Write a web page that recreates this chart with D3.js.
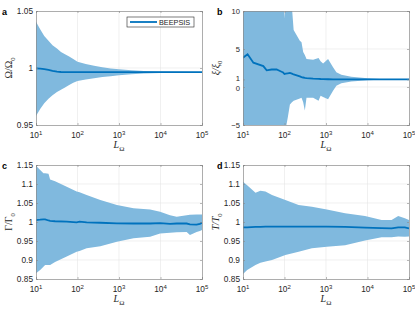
<!DOCTYPE html>
<html>
<head>
<meta charset="utf-8">
<script src="https://cdn.jsdelivr.net/npm/d3@7"></script>
<style>
  body { margin: 0; background: #fff; }
  svg text { font-family: "Liberation Sans", Arial, sans-serif; }
</style>
</head>
<body>
<svg id="chart" width="415" height="311"></svg>
<script>
// --- data ---
const xTicks = [10, 100, 1000, 10000, 100000];

// panel a : Omega / Omega_0
const aL   = [10, 12.6, 15.8, 20, 25, 32, 40, 50, 63, 79, 100, 158, 251, 398, 631, 1000, 2000, 4000, 10000, 31600, 100000];
const aMid = [0.9997, 0.9994, 0.9990, 0.9984, 0.9975, 0.9968, 0.9965, 0.9963, 0.9963, 0.9963, 0.9963, 0.9963, 0.9963, 0.9963, 0.9963, 0.9963, 0.9963, 0.9963, 0.9963, 0.9963, 0.9963];
const aHi  = [1.0405, 1.034, 1.028, 1.024, 1.020, 1.017, 1.014, 1.012, 1.010, 1.008, 1.0055, 1.0035, 1.002, 1.0007, 0.9996, 0.9988, 0.998, 0.9974, 0.9970, 0.9967, 0.9966];
const aLo  = [0.958, 0.964, 0.969, 0.973, 0.976, 0.979, 0.981, 0.983, 0.985, 0.987, 0.9885, 0.990, 0.991, 0.992, 0.9928, 0.9936, 0.9946, 0.9952, 0.9956, 0.9959, 0.9960];
const aTicks = [0.95, 1, 1.05];

// panel b : xi / xi_0
const bL   = [10, 12.9, 17.8, 30.9, 37.2, 49, 64.6, 85, 93, 100, 107, 120, 135, 151, 166, 234, 257, 282, 309, 339, 490, 661, 741, 851, 1122, 1479, 1778, 2344, 4074, 10000, 19953, 100000];
const bMid = [3.85, 4.3, 3.2, 2.75, 2.2, 2.3, 2.3, 2.0, 1.9, 1.7, 1.75, 1.8, 1.85, 1.75, 1.65, 1.4, 1.3, 1.25, 1.2, 1.17, 1.1, 1.07, 1.05, 1.04, 1.02, 1.01, 1.0, 1.0, 1.0, 1.0, 1.0, 1.0];
const bHi  = [12, 12, 12, 12, 12, 12, 12, 12, 12, 9.0, 12, 12, 12, 10.5, 7.5, 6.1, 5.9, 4.6, 4.2, 3.7, 3.6, 3.8, 3.4, 3.1, 3.7, 2.6, 1.95, 1.6, 1.35, 1.15, 1.05, 1.01];
const bLo  = [-7, -7, -7, -7, -7, -7, -7, -7, -7, -7, -5.5, -4.0, -2.3, -2.0, -1.8, -1.5, -1.4, -2.0, -3.1, -1.4, -1.4, -1.8, -1.15, -1.3, -1.6, -0.5, 0.17, 0.5, 0.73, 0.88, 0.96, 0.99];
const bTicks = [-5, 0, 1, 5, 10];

// panel c : Gamma / Gamma_0
const cL   = [10, 12.6, 15.1, 16.6, 20, 21.9, 28.8, 55, 95.5, 112, 166, 355, 891, 2239, 5623, 9772, 16982, 24547, 42658, 51286, 74131, 89125, 100000];
const cMid = [1.005, 1.006, 1.007, 1.007, 1.004, 1.003, 1.002, 1.001, 0.999, 1.001, 0.999, 0.998, 0.9965, 0.996, 0.996, 0.997, 0.995, 0.996, 0.996, 0.994, 0.993, 0.995, 0.998];
const cHi  = [1.148, 1.137, 1.128, 1.128, 1.127, 1.112, 1.107, 1.093, 1.080, 1.078, 1.071, 1.058, 1.045, 1.036, 1.033, 1.027, 1.018, 1.014, 1.018, 1.019, 1.020, 1.020, 1.020];
const cLo  = [0.865, 0.874, 0.882, 0.887, 0.887, 0.887, 0.895, 0.909, 0.922, 0.924, 0.931, 0.936, 0.948, 0.957, 0.961, 0.970, 0.972, 0.973, 0.974, 0.966, 0.974, 0.976, 0.979];
const cdTicks = [0.85, 0.9, 0.95, 1, 1.05, 1.1, 1.15];

// panel d : T / T_0
const dL   = [10, 12.6, 20, 26.3, 34.7, 50, 105, 219, 457, 1047, 2884, 8710, 21878, 38019, 54954, 79433, 100000];
const dMid = [0.986, 0.986, 0.987, 0.987, 0.988, 0.988, 0.988, 0.988, 0.988, 0.988, 0.987, 0.985, 0.984, 0.983, 0.986, 0.986, 0.983];
const dHi  = [1.106, 1.097, 1.077, 1.082, 1.080, 1.071, 1.058, 1.045, 1.040, 1.033, 1.023, 1.016, 1.005, 1.005, 1.016, 1.010, 1.005];
const dLo  = [0.863, 0.874, 0.887, 0.893, 0.896, 0.900, 0.913, 0.922, 0.931, 0.935, 0.939, 0.951, 0.960, 0.960, 0.962, 0.961, 0.962];

// --- layout ---
const panels = [
  {id: "a", left: 36,  top: 11,  L: aL, mid: aMid, hi: aHi, lo: aLo, domain: [0.95, 1.05], ticks: aTicks, sym: "Ω", italic: false},
  {id: "b", left: 243, top: 11,  L: bL, mid: bMid, hi: bHi, lo: bLo, domain: [-5, 10],     ticks: bTicks, sym: "ξ", italic: true},
  {id: "c", left: 36,  top: 165, L: cL, mid: cMid, hi: cHi, lo: cLo, domain: [0.85, 1.15], ticks: cdTicks, sym: "Γ", italic: false},
  {id: "d", left: 243, top: 165, L: dL, mid: dMid, hi: dHi, lo: dLo, domain: [0.85, 1.15], ticks: cdTicks, sym: "T", italic: true}
];
const W = 166, H = 114;
const lineColor = "#0072bd", fillColor = "#80b9de", ink = "#262626";

const svg = d3.select("#chart");
const defs = svg.append("defs");

panels.forEach(p => {
  const g = svg.append("g").attr("transform", `translate(${p.left},${p.top})`);
  const x = d3.scaleLog().domain([10, 100000]).range([0, W]);
  const y = d3.scaleLinear().domain(p.domain).range([H, 0]);

  defs.append("clipPath").attr("id", "clip-" + p.id)
    .append("rect").attr("width", W).attr("height", H);

  // grid
  g.selectAll(".gx").data(xTicks.slice(1, -1)).enter().append("line")
    .attr("x1", d => x(d)).attr("x2", d => x(d)).attr("y1", 0).attr("y2", H)
    .attr("stroke", "#e6e6e6").attr("stroke-width", 0.6);
  g.selectAll(".gy").data(p.ticks.slice(1, -1)).enter().append("line")
    .attr("y1", d => y(d)).attr("y2", d => y(d)).attr("x1", 0).attr("x2", W)
    .attr("stroke", "#e6e6e6").attr("stroke-width", 0.6);

  const rows = p.L.map((L, i) => ({L, mid: p.mid[i], hi: p.hi[i], lo: p.lo[i]}));
  const plot = g.append("g").attr("clip-path", `url(#clip-${p.id})`);

  plot.append("path").datum(rows)
    .attr("fill", fillColor)
    .attr("d", d3.area().x(d => x(d.L)).y0(d => y(d.lo)).y1(d => y(d.hi)));

  plot.append("path").datum(rows)
    .attr("fill", "none").attr("stroke", lineColor).attr("stroke-width", 1.8)
    .attr("d", d3.line().x(d => x(d.L)).y(d => y(d.mid)));

  // axes (ticks inside, MATLAB style)
  const fmtX = d => "";
  g.append("g").attr("transform", `translate(0,${H})`)
    .call(d3.axisBottom(x).tickValues(xTicks).tickSize(-2).tickFormat(fmtX));
  const ay = g.append("g")
    .call(d3.axisLeft(y).tickValues(p.ticks).tickSize(-2).tickFormat(d => d3.format("~g")(d)));
  g.append("g").call(d3.axisTop(x).tickValues(xTicks).tickSize(-2).tickFormat(fmtX));
  g.append("g").attr("transform", `translate(${W},0)`)
    .call(d3.axisRight(y).tickValues(p.ticks).tickSize(-2).tickFormat(() => ""));
  g.selectAll(".domain").attr("stroke", "#8a8a8a").attr("stroke-width", 0.7);
  g.selectAll(".tick line").attr("stroke", "#8a8a8a").attr("stroke-width", 0.6);
  ay.selectAll("text").attr("x", -3).attr("fill", ink).style("font-size", "8.3px");
  if (p.id === "b") {
    // "1" and "0" sit very close together
    ay.selectAll("text").style("font-size", "7.6px")
      .attr("dy", d => d === 1 ? "0.1em" : d === 0 ? "0.45em" : "0.32em");
  }

  // x tick labels 10^n
  const xl = g.selectAll(".xl").data(xTicks).enter().append("text")
    .attr("x", d => x(d)).attr("y", H + 13).attr("text-anchor", "middle")
    .attr("fill", ink).style("font-size", "8.3px");
  xl.append("tspan").text("10");
  xl.append("tspan").attr("dy", -3.5).style("font-size", "6px").text(d => Math.round(Math.log10(d)));

  // x label L_Omega
  const xt = g.append("text").attr("x", W / 2).attr("y", H + 23)
    .attr("text-anchor", "middle").attr("fill", ink)
    .style("font-family", "'Liberation Serif', serif").style("font-size", "10px");
  xt.append("tspan").style("font-style", "italic").text("L");
  xt.append("tspan").attr("dy", 2.5).style("font-size", "7px").text("Ω");

  // y label
  const yt = g.append("text")
    .attr("transform", `translate(${-24},${H / 2}) rotate(-90)`)
    .attr("text-anchor", "middle").attr("fill", ink)
    .style("font-family", "'Liberation Serif', serif").style("font-size", "10px")
    .style("font-style", p.italic ? "italic" : "normal");
  yt.append("tspan").text(p.sym + "/" + p.sym);
  yt.append("tspan").attr("dy", 2.5).style("font-size", "6.5px").style("font-style", "normal").text("0");

  // panel letter
  g.append("text").attr("x", p.id === "a" || p.id === "c" ? -34 : -26).attr("y", 4)
    .attr("fill", "#000").style("font-weight", "bold").style("font-size", "9px").text(p.id);

  // legend in panel a
  if (p.id === "a") {
    const lg = g.append("g").attr("transform", `translate(${W - 75},6)`);
    lg.append("rect").attr("width", 67).attr("height", 10)
      .attr("fill", "#fff").attr("stroke", ink).attr("stroke-width", 0.6);
    lg.append("line").attr("x1", 3).attr("x2", 30).attr("y1", 5).attr("y2", 5)
      .attr("stroke", lineColor).attr("stroke-width", 1.8);
    lg.append("text").attr("x", 32).attr("y", 8).attr("fill", ink)
      .style("font-size", "7.3px").text("BEEPSIS");
  }
});
</script>
</body>
</html>
